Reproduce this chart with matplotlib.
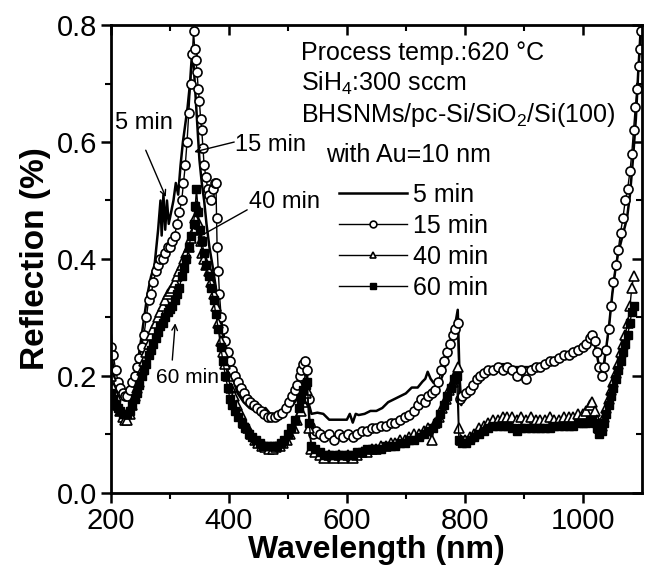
import matplotlib
matplotlib.use("Agg")
import matplotlib.pyplot as plt
import numpy as np

plt.rcParams["font.family"] = ["Liberation Sans", "DejaVu Sans"]
plt.rcParams["mathtext.fontset"] = "custom"
plt.rcParams["mathtext.rm"] = "Liberation Sans"
plt.rcParams["mathtext.default"] = "regular"

# ---- data ----
wl_5 = [200, 203, 207, 212, 218, 225, 232, 240, 248, 255, 262, 268, 274, 280, 284, 286, 289,
        292, 295, 298, 302, 306, 310, 314, 318, 322, 326, 330, 334, 338, 341, 344, 347, 350,
        354, 358, 362, 367, 372, 378, 384, 390, 397, 405, 415, 425, 435, 445, 455, 462, 470,
        480, 490, 500, 508, 515, 522, 528, 532, 536, 540, 550, 560, 570, 580, 590, 600, 605,
        610, 615, 620, 630, 640, 650, 660, 670, 680, 690, 700, 710, 720, 728, 733, 737, 742,
        747, 752, 758, 764, 770, 775, 780, 784, 788, 791, 794, 800, 810, 820, 830, 840, 850,
        860, 870, 880, 890, 900, 910, 920, 930, 940, 950, 960, 970, 980, 990, 1000, 1008,
        1015, 1020, 1025, 1030, 1035, 1040, 1045, 1050, 1055, 1060, 1065, 1070, 1075, 1080,
        1085, 1090, 1094, 1098]
r_5 = [0.27, 0.22, 0.19, 0.18, 0.17, 0.16, 0.17, 0.19, 0.24, 0.29, 0.34, 0.37, 0.39, 0.45, 0.50,
       0.44, 0.51, 0.45, 0.50, 0.46, 0.48, 0.50, 0.53, 0.51, 0.56, 0.60, 0.63, 0.66, 0.70, 0.76,
       0.72, 0.67, 0.62, 0.57, 0.53, 0.50, 0.46, 0.42, 0.39, 0.35, 0.31, 0.27, 0.23, 0.20, 0.17,
       0.155, 0.145, 0.14, 0.14, 0.145, 0.135, 0.135, 0.135, 0.14, 0.15, 0.16, 0.18, 0.20, 0.21,
       0.15, 0.135, 0.137, 0.135, 0.125, 0.125, 0.125, 0.125, 0.135, 0.12, 0.135, 0.133, 0.135,
       0.14, 0.14, 0.145, 0.155, 0.16, 0.165, 0.17, 0.18, 0.18, 0.19, 0.195, 0.207, 0.195, 0.188,
       0.19, 0.19, 0.205, 0.23, 0.25, 0.275, 0.29, 0.313, 0.20, 0.15, 0.17, 0.185, 0.195, 0.205,
       0.21, 0.215, 0.22, 0.22, 0.215, 0.215, 0.215, 0.215, 0.22, 0.22, 0.22, 0.225, 0.225,
       0.23, 0.235, 0.24, 0.245, 0.255, 0.26, 0.255, 0.23, 0.205, 0.215, 0.25, 0.29, 0.34, 0.38,
       0.41, 0.43, 0.45, 0.47, 0.51, 0.57, 0.64, 0.72, 0.79]

wl_15 = [200, 204, 208, 212, 216, 220, 224, 228, 232, 236, 240, 244, 248, 252, 256, 260, 264,
         268, 272, 276, 280, 284, 288, 292, 296, 300, 304, 308, 312, 316, 320, 323, 326, 329,
         332, 335, 338, 340, 342, 344, 346, 348, 350, 352, 354, 356, 358, 361, 364, 367, 370,
         373, 376, 378, 379, 380, 382, 384, 387, 390, 394, 398, 402, 406, 410, 415, 420, 425,
         430, 436, 442, 448, 454, 460, 466, 472, 478, 484, 490, 496, 502, 507, 512, 516, 520,
         523, 526, 529, 532, 535, 538, 542, 548, 555, 562, 570, 578, 586, 594, 602, 610, 618,
         626, 634, 642, 650, 658, 666, 674, 682, 690, 698, 706, 714, 720, 726, 732, 738, 744,
         750, 755, 760, 765, 770, 775, 780, 784, 788, 791, 796, 802, 808, 814, 820, 826, 832,
         840, 848, 856, 864, 872, 880, 888, 896, 904, 912, 920, 928, 936, 944, 952, 960, 968,
         976, 984, 992, 1000, 1006, 1012, 1016, 1020, 1024, 1028, 1032, 1036, 1040, 1044, 1048,
         1052, 1056, 1060, 1064, 1068, 1072, 1076, 1080, 1083, 1086, 1089, 1092, 1095, 1097, 1099]
r_15 = [0.25, 0.235, 0.21, 0.19, 0.18, 0.17, 0.165, 0.165, 0.175, 0.19, 0.20, 0.215, 0.23, 0.25,
        0.27, 0.30, 0.33, 0.34, 0.36, 0.38, 0.39, 0.40, 0.40, 0.41, 0.42, 0.42, 0.43, 0.44, 0.46,
        0.48, 0.50, 0.53, 0.56, 0.60, 0.65, 0.70, 0.75, 0.79, 0.76, 0.74, 0.72, 0.69, 0.67, 0.64,
        0.62, 0.59, 0.56, 0.54, 0.52, 0.51, 0.50, 0.52, 0.53, 0.53, 0.47, 0.42, 0.38, 0.34, 0.30,
        0.28, 0.26, 0.24, 0.225, 0.21, 0.20, 0.19, 0.18, 0.17, 0.16, 0.155, 0.15, 0.145, 0.14,
        0.135, 0.13, 0.13, 0.13, 0.133, 0.137, 0.145, 0.155, 0.165, 0.175, 0.185, 0.20, 0.21,
        0.22, 0.225, 0.21, 0.16, 0.115, 0.10, 0.105, 0.10, 0.095, 0.10, 0.09, 0.10, 0.095, 0.10,
        0.095, 0.10, 0.105, 0.105, 0.11, 0.11, 0.115, 0.115, 0.12, 0.12, 0.125, 0.13, 0.133,
        0.14, 0.15, 0.16, 0.155, 0.165, 0.17, 0.175, 0.19, 0.21, 0.225, 0.24, 0.255, 0.27, 0.28,
        0.29, 0.16, 0.165, 0.17, 0.176, 0.185, 0.195, 0.20, 0.205, 0.21, 0.21, 0.215, 0.21,
        0.215, 0.21, 0.20, 0.21, 0.195, 0.21, 0.215, 0.215, 0.22, 0.225, 0.225, 0.23, 0.235,
        0.235, 0.24, 0.245, 0.25, 0.255, 0.265, 0.27, 0.26, 0.24, 0.215, 0.20, 0.215, 0.245,
        0.28, 0.32, 0.36, 0.39, 0.415, 0.445, 0.47, 0.50, 0.52, 0.55, 0.58, 0.62, 0.66, 0.69,
        0.73, 0.76, 0.79]

wl_40 = [200, 204, 208, 212, 216, 220, 224, 228, 232, 236, 240, 244, 248, 252, 256, 260, 264,
         268, 272, 276, 280, 284, 288, 292, 296, 300, 304, 308, 312, 316, 320, 324, 328, 332,
         336, 340, 343, 346, 349, 352, 355, 358, 362, 366, 370, 374, 378, 382, 386, 390, 394,
         398, 403, 408, 414, 420, 426, 432, 438, 444, 450, 456, 462, 468, 474, 480, 486, 492,
         498, 504, 510, 516, 522, 526, 530, 533, 536, 540, 546, 554, 562, 570, 578, 586, 594,
         602, 610, 618, 626, 634, 642, 650, 658, 666, 674, 682, 690, 698, 706, 714, 722, 730,
         738, 744, 750, 756, 762, 768, 774, 780, 785, 788, 790, 794, 800, 808, 816, 824, 832,
         840, 848, 856, 864, 872, 880, 888, 896, 904, 912, 920, 928, 936, 944, 952, 960, 968,
         976, 984, 992, 1000, 1006, 1012, 1016, 1020, 1024, 1028, 1032, 1036, 1040, 1044, 1048,
         1052, 1056, 1060, 1064, 1068, 1072, 1076, 1080, 1083, 1086]
r_40 = [0.20, 0.18, 0.165, 0.15, 0.14, 0.13, 0.125, 0.125, 0.135, 0.15, 0.165, 0.18, 0.19, 0.21,
        0.225, 0.24, 0.255, 0.27, 0.28, 0.29, 0.30, 0.31, 0.32, 0.33, 0.34, 0.345, 0.35, 0.36,
        0.37, 0.38, 0.39, 0.40, 0.41, 0.42, 0.435, 0.45, 0.47, 0.49, 0.46, 0.43, 0.41, 0.40,
        0.39, 0.38, 0.36, 0.34, 0.32, 0.29, 0.26, 0.24, 0.22, 0.20, 0.18, 0.165, 0.15, 0.135,
        0.12, 0.11, 0.10, 0.09, 0.085, 0.08, 0.078, 0.075, 0.075, 0.078, 0.08, 0.085, 0.09,
        0.10, 0.11, 0.125, 0.14, 0.155, 0.17, 0.175, 0.11, 0.075, 0.07, 0.065, 0.06, 0.065,
        0.06, 0.065, 0.06, 0.065, 0.06, 0.065, 0.07, 0.07, 0.075, 0.075, 0.08, 0.08, 0.085,
        0.085, 0.09, 0.09, 0.095, 0.10, 0.10, 0.105, 0.11, 0.09, 0.12, 0.13, 0.145, 0.16, 0.175,
        0.19, 0.205, 0.215, 0.11, 0.09, 0.09, 0.095, 0.10, 0.11, 0.115, 0.12, 0.125, 0.125, 0.13,
        0.13, 0.13, 0.125, 0.13, 0.125, 0.13, 0.125, 0.125, 0.125, 0.13, 0.125, 0.125, 0.13,
        0.13, 0.13, 0.135, 0.135, 0.14, 0.15, 0.155, 0.14, 0.125, 0.11, 0.115, 0.13, 0.145,
        0.16, 0.175, 0.19, 0.205, 0.22, 0.24, 0.255, 0.27, 0.29, 0.32, 0.35, 0.37]

wl_60 = [200, 204, 208, 212, 216, 220, 224, 228, 232, 236, 240, 244, 248, 252, 256, 260, 264,
         268, 272, 276, 280, 284, 288, 292, 296, 300, 304, 308, 312, 316, 320, 324, 328, 332,
         336, 340, 343, 345, 348, 351, 354, 358, 362, 366, 370, 374, 378, 382, 386, 390, 394,
         398, 402, 406, 411, 416, 422, 428, 434, 440, 446, 452, 458, 464, 470, 476, 482, 488,
         494, 500, 506, 512, 518, 522, 526, 530, 533, 536, 540, 546, 554, 562, 570, 578, 586,
         594, 602, 610, 618, 626, 634, 642, 650, 658, 666, 674, 682, 690, 698, 706, 714, 722,
         730, 738, 746, 752, 758, 764, 770, 776, 782, 786, 790, 796, 802, 808, 816, 824, 832,
         840, 848, 856, 864, 872, 880, 888, 896, 904, 912, 920, 928, 936, 944, 952, 960, 968,
         976, 984, 992, 1000, 1006, 1012, 1016, 1020, 1024, 1028, 1032, 1036, 1040, 1044, 1048,
         1052, 1056, 1060, 1064, 1068, 1072, 1076, 1080, 1083, 1086]
r_60 = [0.17, 0.16, 0.15, 0.145, 0.14, 0.135, 0.135, 0.135, 0.14, 0.15, 0.16, 0.17, 0.185, 0.20,
        0.21, 0.22, 0.235, 0.245, 0.255, 0.265, 0.275, 0.285, 0.29, 0.30, 0.31, 0.315, 0.32,
        0.33, 0.34, 0.35, 0.37, 0.385, 0.40, 0.42, 0.44, 0.46, 0.49, 0.52, 0.48, 0.45, 0.43,
        0.41, 0.39, 0.37, 0.35, 0.33, 0.305, 0.28, 0.25, 0.225, 0.20, 0.18, 0.16, 0.15, 0.14,
        0.13, 0.12, 0.11, 0.10, 0.095, 0.09, 0.085, 0.08, 0.08, 0.08, 0.08, 0.08, 0.085, 0.09,
        0.10, 0.11, 0.125, 0.145, 0.16, 0.175, 0.185, 0.19, 0.12, 0.08, 0.075, 0.07, 0.065,
        0.065, 0.065, 0.065, 0.065, 0.065, 0.065, 0.07, 0.07, 0.075, 0.075, 0.075, 0.075, 0.08,
        0.08, 0.08, 0.085, 0.085, 0.09, 0.09, 0.095, 0.10, 0.105, 0.11, 0.12, 0.135, 0.15, 0.165,
        0.18, 0.195, 0.20, 0.09, 0.085, 0.085, 0.09, 0.095, 0.10, 0.105, 0.11, 0.115, 0.115,
        0.115, 0.115, 0.11, 0.105, 0.11, 0.11, 0.11, 0.11, 0.11, 0.11, 0.11, 0.115, 0.115,
        0.115, 0.115, 0.115, 0.12, 0.12, 0.12, 0.125, 0.125, 0.12, 0.11, 0.10, 0.105, 0.12,
        0.135, 0.15, 0.165, 0.18, 0.195, 0.21, 0.225, 0.24, 0.255, 0.27, 0.29, 0.31, 0.32]

labels = ["5 min", "15 min", "40 min", "60 min"]
notes = ["Process temp.:620 \u00b0C", "SiH$_4$:300 sccm",
         "BHSNMs/pc-Si/SiO$_2$/Si(100)", "with Au=10 nm"]

# ---- figure ----
fig = plt.figure(figsize=(6.45, 5.71), dpi=100)
ax = fig.add_axes([0.172, 0.137, 0.823, 0.819])

ax.plot(wl_5, r_5, color="black", lw=1.8, label=labels[0])
ax.plot(wl_15, r_15, color="black", lw=1.0, marker="o", ms=6.5, mfc="white", mec="black",
        mew=1.2, label=labels[1])
ax.plot(wl_40, r_40, color="black", lw=1.0, marker="^", ms=6.5, mfc="white", mec="black",
        mew=1.2, label=labels[2])
ax.plot(wl_60, r_60, color="black", lw=1.0, marker="s", ms=6, mfc="black", mec="black",
        label=labels[3])

ax.set_xlim(200, 1100)
ax.set_ylim(0.0, 0.8)
ax.set_xticks([200, 400, 600, 800, 1000])
ax.set_xticks(np.arange(300, 1100, 200), minor=True)
ax.set_yticks([0.0, 0.2, 0.4, 0.6, 0.8])
ax.set_yticks([0.1, 0.3, 0.5, 0.7], minor=True)
ax.set_yticklabels(["0.0", "0.2", "0.4", "0.6", "0.8"])

for s in ax.spines.values():
    s.set_linewidth(2)
ax.tick_params(which="major", direction="out", length=7, width=1.8, labelsize=21, pad=3)
ax.tick_params(which="minor", direction="out", length=4, width=1.5)

top = ax.secondary_xaxis("top")
top.set_xticks([200, 400, 600, 800, 1000])
top.set_xticks(np.arange(300, 1100, 200), minor=True)
top.tick_params(which="major", direction="in", length=7, width=1.8, labeltop=False)
top.tick_params(which="minor", direction="in", length=4, width=1.5)
right = ax.secondary_yaxis("right")
right.set_yticks([0.0, 0.2, 0.4, 0.6, 0.8])
right.set_yticks([0.1, 0.3, 0.5, 0.7], minor=True)
right.tick_params(which="major", direction="in", length=7, width=1.8, labelright=False)
right.tick_params(which="minor", direction="in", length=4, width=1.5)

ax.set_xlabel("Wavelength (nm)", fontsize=23, fontweight="bold", labelpad=0)
ax.set_ylabel("Reflection (%)", fontsize=24, fontweight="bold", labelpad=4)

# text block
note_pos = [(0.358, 0.940), (0.358, 0.876), (0.358, 0.808), (0.406, 0.722)]
for txt, (x, y) in zip(notes, note_pos):
    ax.text(x, y, txt, transform=ax.transAxes, fontsize=18, ha="left", va="center")

leg = ax.legend(loc="upper left", bbox_to_anchor=(0.43, 0.662), frameon=False, fontsize=18,
                handlelength=2.7, handletextpad=0.25, labelspacing=0.28, borderpad=0,
                borderaxespad=0, numpoints=1, markerscale=0.75)

# curve labels with arrows
arrow = dict(arrowstyle="->", color="black", lw=1.0, shrinkA=0, shrinkB=0)
ax.text(256, 0.632, "5 min", fontsize=17, ha="center", va="center")
ax.annotate("", xy=(293, 0.506), xytext=(259, 0.586), arrowprops=arrow)
ax.text(470, 0.595, "15 min", fontsize=17, ha="center", va="center")
ax.annotate("", xy=(341, 0.583), xytext=(409, 0.600), arrowprops=arrow)
ax.text(494, 0.497, "40 min", fontsize=17, ha="center", va="center")
ax.annotate("", xy=(346, 0.436), xytext=(431, 0.484), arrowprops=arrow)
ax.text(329, 0.198, "60 min", fontsize=15, ha="center", va="center")
ax.annotate("", xy=(309, 0.29), xytext=(304, 0.227), arrowprops=arrow)

fig.savefig("out.png", dpi=100)
